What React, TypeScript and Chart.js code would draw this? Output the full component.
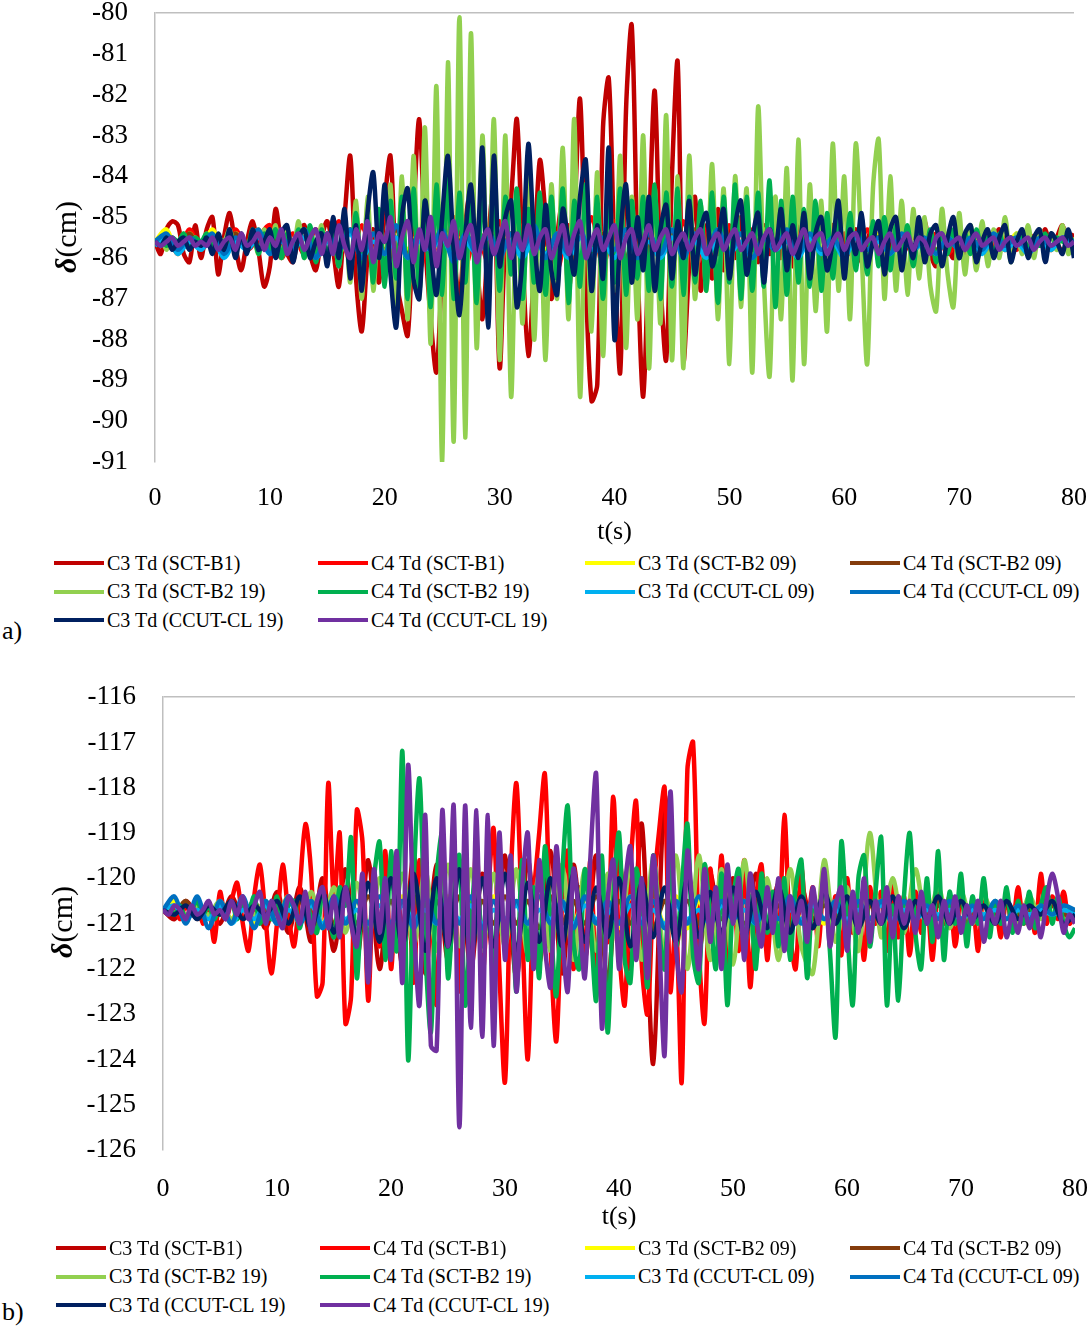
import { useEffect, useRef } from "react";
import { Chart, registerables } from "chart.js";

Chart.register(...registerables);

// time grids: most series sampled every 0.5 s, the quieter ones every 1 s
const T_FINE = Array.from({ length: 161 }, (_, i) => i * 0.5);
const T_COARSE = Array.from({ length: 81 }, (_, i) => i);

const SERIES_NAMES = [
  "C3 Td (SCT-B1)",
  "C4 Td (SCT-B1)",
  "C3 Td (SCT-B2 09)",
  "C4 Td (SCT-B2 09)",
  "C3 Td (SCT-B2 19)",
  "C4 Td (SCT-B2 19)",
  "C3 Td (CCUT-CL 09)",
  "C4 Td (CCUT-CL 09)",
  "C3 Td (CCUT-CL 19)",
  "C4 Td (CCUT-CL 19)",
];
const SERIES_COLORS = [
  "#C00000", "#FF0000", "#FFFF00", "#843C0C", "#92D050",
  "#00B050", "#00B0F0", "#0070C0", "#002060", "#7030A0",
];

const A_TICKS_Y = { min: -91, max: -80 };
const B_TICKS_Y = { min: -126, max: -116 };

// ---------- panel a) ----------
const A_C3_SCTB1 = [
  -85.6, -85.9, -85.3, -85.1, -85.2, -85.9, -86.1, -85.2, -86.0, -85.3,
  -85.0, -86.4, -85.5, -84.9, -85.7, -86.3, -85.6, -85.1, -85.8, -86.7,
  -86.2, -84.8, -85.6, -85.9, -86.1, -85.4, -85.2, -85.9, -86.3, -85.5,
  -85.1, -85.8, -86.7, -85.0, -83.5, -86.5, -87.8, -86.0, -85.3, -86.6,
  -84.6, -83.5, -86.5, -87.3, -87.9, -85.0, -82.6, -85.5, -87.5, -88.8,
  -86.3, -84.5, -85.8, -87.0, -85.2, -84.3, -86.0, -87.5, -85.6, -84.2,
  -88.7, -85.5, -84.5, -82.6, -86.0, -88.4, -86.2, -83.6, -85.0, -87.0,
  -85.5, -84.6, -86.8, -85.0, -82.1, -86.5, -89.5, -89.1, -82.8, -81.6,
  -86.0, -88.8, -82.4, -80.3, -86.0, -89.4, -85.5, -81.9, -86.5, -88.5,
  -84.0, -81.2, -88.5, -86.2, -84.5, -86.8, -85.2, -86.5, -84.8, -86.3,
  -85.3, -86.0, -85.0, -86.2, -85.4, -86.1, -85.2, -85.9, -85.3, -86.0,
  -84.9, -86.2, -85.4, -85.0, -86.3, -84.8, -86.1, -85.6, -85.2, -86.0,
  -85.5, -85.9, -85.3, -86.1, -85.6, -85.2, -86.0, -85.5, -85.8, -85.3,
  -86.0, -85.4, -85.9, -85.6, -85.1, -85.9, -86.2, -85.4, -85.7, -86.0,
  -85.3, -85.9, -85.5, -85.8, -85.4, -85.9, -85.6, -85.3, -85.8, -85.5,
  -85.7, -85.4, -85.9, -85.5, -85.6, -85.3, -85.8, -85.5, -85.2, -85.7,
  -85.4,
];
const A_C4_SCTB1 = [
  -85.6, -85.4, -85.9, -85.3, -85.8, -85.4, -85.9, -85.3, -85.8, -85.5,
  -85.2, -86.0, -85.4, -85.9, -85.3, -86.0, -85.1, -86.1, -85.2, -86.0,
  -85.0, -86.2, -85.1, -86.3, -85.2, -86.0, -85.0, -86.2, -85.3, -86.1,
  -85.1, -86.2, -85.2, -86.0, -85.1, -86.3, -85.2, -86.1, -85.0, -86.2,
  -85.1, -86.0, -85.2, -86.1, -85.3, -86.0, -85.1, -86.2, -85.3, -85.9,
  -85.2, -86.0, -85.3, -85.9, -85.2, -86.0, -85.4, -85.9, -85.3, -85.8,
  -85.4, -85.9, -85.3, -85.8, -85.4, -85.9, -85.5, -85.8, -85.4, -85.9,
  -85.5, -85.8, -85.4, -85.7, -85.5, -85.8, -85.4, -85.7, -85.5, -85.8,
  -85.5,
];
const A_C3_SCTB209 = [
  -85.6, -85.3, -85.9, -85.4, -85.8, -85.3, -85.9, -85.4, -85.7, -85.3,
  -85.8, -85.4, -85.9, -85.3, -85.8, -85.4, -85.9, -85.3, -85.8, -85.4,
  -85.9, -85.3, -85.8, -85.4, -85.9, -85.3, -85.8, -85.4, -85.9, -85.3,
  -85.8, -85.4, -85.9, -85.3, -85.8, -85.4, -85.9, -85.3, -85.8, -85.4,
  -85.9, -85.3, -85.8, -85.4, -85.9, -85.3, -85.8, -85.4, -85.9, -85.3,
  -85.8, -85.4, -85.9, -85.3, -85.8, -85.4, -85.9, -85.3, -85.8, -85.4,
  -85.9, -85.4, -85.8, -85.4, -85.9, -85.3, -85.8, -85.4, -85.8, -85.4,
  -85.8, -85.4, -85.8, -85.5, -85.8, -85.4, -85.7, -85.5, -85.8, -85.4,
  -85.6,
];
const A_C4_SCTB209 = [
  -85.6, -85.5, -85.7, -85.4, -85.8, -85.5, -85.7, -85.4, -85.8, -85.5,
  -85.7, -85.4, -85.8, -85.5, -85.9, -85.4, -85.8, -85.3, -85.9, -85.4,
  -85.8, -85.3, -85.9, -85.4, -85.8, -85.3, -85.9, -85.4, -85.8, -85.3,
  -85.9, -85.4, -85.8, -85.3, -85.9, -85.4, -85.8, -85.3, -85.9, -85.4,
  -85.8, -85.3, -85.9, -85.4, -85.8, -85.4, -85.9, -85.3, -85.8, -85.4,
  -85.9, -85.4, -85.8, -85.4, -85.8, -85.5, -85.9, -85.4, -85.8, -85.5,
  -85.8, -85.4, -85.7, -85.5, -85.8, -85.4, -85.7, -85.5, -85.8, -85.5,
  -85.7, -85.5, -85.8, -85.5, -85.7, -85.5, -85.7, -85.6, -85.7, -85.5,
  -85.6,
];
const A_C3_SCTB219 = [
  -85.6, -85.5, -85.8, -85.5, -85.7, -85.4, -85.8, -85.5, -85.7, -85.4,
  -85.8, -85.5, -85.6, -85.3, -85.8, -85.5, -85.7, -85.4, -85.9, -85.3,
  -85.8, -85.2, -86.0, -85.3, -85.9, -85.1, -86.0, -85.3, -85.9, -85.2,
  -86.1, -85.3, -86.2, -85.0, -86.6, -84.6, -87.0, -84.5, -86.8, -84.8,
  -86.5, -84.2, -87.2, -84.0, -87.5, -83.5, -87.0, -82.8, -88.1, -81.8,
  -91.0, -81.2, -90.5, -80.1, -90.4, -80.5, -88.2, -83.0, -87.3, -82.6,
  -88.5, -83.0, -89.4, -84.5, -87.6, -83.5, -88.0, -84.6, -88.5, -84.2,
  -87.0, -83.3, -87.5, -82.6, -89.4, -84.2, -87.8, -83.9, -88.4, -84.0,
  -86.8, -83.5, -88.2, -84.5, -87.5, -83.0, -88.7, -84.3, -87.6, -82.5,
  -88.5, -84.0, -88.7, -83.5, -87.0, -84.7, -86.8, -83.7, -87.5, -84.3,
  -88.6, -84.0, -87.2, -84.3, -88.8, -82.3, -86.5, -88.9, -84.5, -87.5,
  -83.8, -89.0, -83.1, -88.6, -84.2, -87.3, -84.6, -87.8, -83.2, -86.8,
  -84.0, -87.5, -83.2, -85.8, -88.6, -84.3, -83.1, -87.0, -84.0, -86.8,
  -84.6, -86.9, -84.8, -86.5, -85.0, -86.7, -87.3, -84.8, -86.4, -87.2,
  -84.9, -86.4, -85.2, -86.3, -85.1, -86.2, -85.3, -86.0, -85.0, -86.1,
  -85.4, -85.9, -85.2, -86.0, -85.3, -85.9, -85.4, -85.8, -85.2, -85.9,
  -85.5,
];
const A_C4_SCTB219 = [
  -85.6, -85.5, -85.7, -85.5, -85.6, -85.4, -85.7, -85.5, -85.6, -85.4,
  -85.7, -85.5, -85.8, -85.4, -85.7, -85.5, -85.8, -85.3, -85.9, -85.4,
  -85.8, -85.3, -86.0, -85.4, -85.9, -85.3, -86.0, -85.2, -86.1, -85.3,
  -86.0, -85.2, -86.2, -85.1, -86.3, -84.9, -86.4, -85.0, -86.6, -84.8,
  -86.7, -84.6, -86.5, -84.5, -87.0, -84.3, -86.8, -84.6, -87.2, -84.2,
  -86.9, -84.0, -87.0, -84.4, -86.6, -84.5, -87.1, -84.2, -86.5, -84.6,
  -86.8, -84.5, -86.4, -84.3, -87.0, -84.8, -86.6, -84.4, -86.9, -84.5,
  -86.5, -84.3, -87.1, -84.6, -86.7, -84.2, -86.8, -84.5, -87.0, -84.4,
  -86.6, -84.3, -86.9, -84.6, -86.5, -84.5, -86.8, -84.2, -87.0, -84.4,
  -86.7, -84.3, -86.9, -84.5, -86.6, -84.6, -86.8, -84.4, -87.1, -84.5,
  -86.6, -84.2, -87.0, -84.5, -86.8, -84.4, -86.7, -84.1, -87.2, -84.6,
  -86.9, -84.5, -86.6, -84.8, -86.7, -84.6, -86.8, -84.9, -86.5, -85.0,
  -86.4, -84.9, -86.3, -85.0, -86.4, -85.1, -86.2, -85.0, -86.3, -85.2,
  -86.1, -85.2, -86.2, -85.3, -86.0, -85.3, -86.1, -85.4, -85.9, -85.3,
  -86.0, -85.4, -85.9, -85.3, -85.8, -85.5, -85.9, -85.4, -85.8, -85.5,
  -85.7, -85.4, -85.8, -85.5, -85.7, -85.4, -85.8, -85.5, -85.6, -85.5,
  -85.6,
];
const A_C3_CCUT09 = [
  -85.7, -85.5, -85.9, -85.6, -85.8, -85.5, -86.0, -85.6, -85.8, -85.5,
  -85.9, -85.6, -85.8, -85.5, -86.0, -85.6, -85.8, -85.4, -86.0, -85.6,
  -85.9, -85.5, -86.0, -85.6, -85.8, -85.5, -86.0, -85.6, -85.9, -85.5,
  -85.8, -85.6, -86.0, -85.5, -85.9, -85.6, -86.0, -85.5, -85.8, -85.6,
  -86.0, -85.5, -85.9, -85.6, -86.0, -85.5, -85.8, -85.6, -86.0, -85.5,
  -85.9, -85.6, -86.0, -85.5, -85.8, -85.6, -86.0, -85.5, -85.9, -85.6,
  -86.0, -85.5, -85.8, -85.6, -85.9, -85.5, -85.8, -85.6, -85.9, -85.5,
  -85.8, -85.6, -85.9, -85.5, -85.8, -85.6, -85.9, -85.6, -85.8, -85.5,
  -85.7,
];
const A_C4_CCUT09 = [
  -85.6, -85.4, -85.8, -85.5, -85.7, -85.4, -85.9, -85.5, -85.7, -85.3,
  -85.9, -85.5, -85.8, -85.3, -86.0, -85.4, -85.8, -85.3, -86.0, -85.4,
  -85.9, -85.2, -86.0, -85.4, -85.8, -85.3, -86.1, -85.4, -85.9, -85.3,
  -86.0, -85.4, -85.8, -85.2, -86.0, -85.4, -85.9, -85.3, -86.0, -85.5,
  -85.8, -85.3, -86.0, -85.4, -85.9, -85.3, -86.0, -85.4, -85.8, -85.3,
  -85.9, -85.4, -86.0, -85.5, -85.8, -85.3, -85.9, -85.4, -85.8, -85.5,
  -85.9, -85.4, -85.8, -85.5, -85.9, -85.4, -85.8, -85.5, -85.9, -85.5,
  -85.8, -85.5, -85.8, -85.4, -85.7, -85.5, -85.8, -85.5, -85.7, -85.5,
  -85.6,
];
const A_C3_CCUT19 = [
  -85.6, -85.7, -85.5, -85.8, -85.6, -85.5, -85.8, -85.6, -85.7, -85.5,
  -85.9, -85.4, -85.8, -85.3, -86.0, -85.4, -85.9, -85.3, -85.8, -85.6,
  -85.3, -86.0, -85.4, -85.2, -86.1, -85.5, -85.3, -86.0, -85.6, -85.4,
  -86.2, -85.0, -86.0, -84.8, -86.5, -85.2, -86.8, -84.9, -83.9, -86.0,
  -84.2, -86.4, -87.7, -85.0, -84.3, -86.5, -87.0, -84.6, -85.8, -86.9,
  -85.0, -83.5, -85.8, -87.4, -85.5, -84.2, -86.0, -83.3, -87.7, -83.5,
  -86.2, -85.0, -84.6, -87.2, -86.0, -83.2, -85.5, -86.8, -84.7, -86.3,
  -86.9, -84.8, -85.6, -86.4, -84.5, -83.6, -86.8, -85.2, -86.5, -83.3,
  -88.0, -85.5, -84.2, -86.6, -85.0, -86.3, -84.5, -86.8, -85.3, -84.7,
  -86.5, -85.1, -86.0, -84.6, -86.4, -85.3, -84.9, -86.2, -85.6, -84.8,
  -86.5, -85.2, -84.6, -86.4, -85.5, -84.9, -86.6, -85.3, -85.8, -84.8,
  -86.3, -85.2, -86.0, -84.9, -86.5, -85.4, -85.0, -86.3, -85.6, -84.6,
  -86.5, -85.3, -85.9, -84.9, -86.2, -85.6, -85.1, -86.4, -85.3, -85.0,
  -86.3, -85.5, -86.0, -85.0, -86.1, -85.4, -85.2, -86.2, -85.5, -85.0,
  -86.0, -85.4, -85.2, -86.1, -85.6, -85.3, -86.0, -85.5, -85.2, -86.1,
  -85.6, -85.3, -86.0, -85.5, -85.3, -86.1, -85.4, -85.6, -85.9, -85.3,
  -86.0,
];
const A_C4_CCUT19 = [
  -85.6, -85.7, -85.6, -85.5, -85.7, -85.6, -85.5, -85.7, -85.6, -85.7,
  -85.5, -85.8, -85.6, -85.5, -85.8, -85.4, -85.7, -85.6, -85.4, -85.8,
  -85.5, -85.7, -85.3, -85.9, -85.6, -85.4, -85.8, -85.5, -85.3, -85.9,
  -85.4, -85.9, -85.2, -85.7, -86.0, -85.3, -85.8, -85.1, -86.1, -85.4,
  -85.6, -85.0, -86.2, -85.5, -85.1, -86.1, -85.3, -85.8, -85.0, -86.2,
  -85.4, -85.7, -85.1, -86.0, -85.5, -85.2, -86.1, -85.6, -85.3, -85.9,
  -85.5, -85.1, -86.0, -85.4, -85.8, -85.2, -85.9, -85.5, -85.3, -86.0,
  -85.6, -85.2, -85.9, -85.4, -85.1, -86.0, -85.6, -85.3, -85.8, -85.5,
  -85.2, -86.0, -85.5, -85.3, -85.9, -85.6, -85.2, -85.8, -85.5, -85.3,
  -85.9, -85.6, -85.4, -85.8, -85.5, -85.3, -85.9, -85.6, -85.4, -85.8,
  -85.5, -85.3, -85.8, -85.6, -85.4, -85.9, -85.5, -85.3, -85.8, -85.6,
  -85.4, -85.9, -85.6, -85.3, -85.8, -85.5, -85.4, -85.9, -85.6, -85.4,
  -85.8, -85.5, -85.4, -85.8, -85.6, -85.5, -85.9, -85.6, -85.4, -85.8,
  -85.6, -85.4, -85.8, -85.5, -85.6, -85.9, -85.5, -85.4, -85.7, -85.6,
  -85.5, -85.8, -85.6, -85.4, -85.7, -85.6, -85.5, -85.8, -85.6, -85.5,
  -85.7, -85.6, -85.5, -85.8, -85.6, -85.5, -85.7, -85.6, -85.5, -85.7,
  -85.6,
];

// ---------- panel b) ----------
const B_C3_SCTB1 = [
  -120.7, -120.9, -120.5, -120.8, -120.6, -121.0, -120.4, -120.9, -120.5, -121.1,
  -120.3, -121.2, -120.2, -121.4, -120.0, -121.6, -119.8, -121.8, -119.6, -122.0,
  -119.8, -121.9, -119.5, -122.1, -119.7, -121.8, -119.6, -122.0, -119.9, -121.7,
  -119.5, -122.2, -119.6, -121.9, -119.4, -122.1, -119.7, -121.8, -119.5, -122.3,
  -119.6, -122.0, -118.8, -124.1, -118.2, -121.5, -119.8, -121.6, -119.9, -121.4,
  -120.0, -121.5, -119.9, -121.3, -120.1, -121.2, -120.2, -121.1, -120.3, -121.0,
  -120.4, -121.2, -120.3, -121.0, -120.5, -121.1, -120.4, -120.9, -120.5, -121.0,
  -120.6, -120.9, -120.5, -121.0, -120.6, -120.9, -120.5, -120.8, -120.6, -120.9,
  -120.7,
];
const B_C4_SCTB1 = [
  -120.7, -120.8, -120.6, -120.9, -120.6, -120.8, -120.5, -121.0, -120.6, -121.4,
  -120.3, -120.9, -120.5, -120.1, -121.0, -121.6, -120.4, -119.7, -120.9, -122.1,
  -121.0, -119.7, -120.8, -121.5, -120.2, -118.8, -119.9, -122.6, -122.3, -117.9,
  -120.5, -119.0, -123.2, -122.6, -118.5, -119.2, -122.7, -120.0, -121.5, -119.4,
  -122.0, -120.2, -121.2, -120.3, -122.3, -119.6, -121.8, -120.5, -122.8, -119.8,
  -121.5, -120.0, -122.5, -119.5, -121.8, -119.2, -122.2, -120.4, -118.9, -122.0,
  -124.5, -120.0, -117.9, -121.0, -124.0, -120.5, -119.0, -117.7, -121.5, -123.6,
  -120.6, -119.4, -122.0, -120.2, -121.8, -119.6, -122.3, -120.0, -121.4, -118.2,
  -121.5, -122.8, -119.8, -118.3, -121.9, -123.0, -120.4, -119.0, -118.0, -122.5,
  -121.0, -124.5, -117.6, -117.0, -121.5, -123.2, -119.8, -121.2, -119.5, -121.9,
  -120.2, -121.6, -119.6, -122.4, -120.5, -119.7, -121.8, -120.3, -121.4, -118.6,
  -121.2, -122.0, -119.8, -121.0, -120.2, -121.5, -119.9, -121.3, -120.4, -121.7,
  -120.0, -121.2, -120.5, -121.8, -120.2, -121.0, -120.3, -121.6, -120.1, -121.3,
  -120.4, -121.7, -120.3, -121.2, -120.5, -121.8, -120.2, -121.0, -120.4, -121.5,
  -120.3, -121.2, -120.5, -121.6, -120.2, -121.0, -120.6, -121.3, -120.4, -121.1,
  -120.2, -121.0, -120.5, -121.2, -119.9, -121.0, -120.4, -120.9, -120.3, -121.0,
  -120.8,
];
const B_C3_SCTB209 = [
  -120.7, -120.5, -120.9, -120.5, -120.9, -120.6, -120.9, -120.5, -121.0, -120.6,
  -120.9, -120.4, -121.0, -120.5, -121.0, -120.4, -121.1, -120.5, -121.0, -120.4,
  -121.0, -120.4, -121.1, -120.5, -121.0, -120.4, -121.0, -120.5, -121.1, -120.4,
  -121.0, -120.5, -121.0, -120.4, -121.1, -120.5, -121.0, -120.4, -121.0, -120.5,
  -121.1, -120.4, -121.0, -120.5, -121.0, -120.4, -121.1, -120.5, -121.0, -120.5,
  -121.0, -120.5, -120.9, -120.5, -121.0, -120.5, -120.9, -120.6, -121.0, -120.5,
  -120.9, -120.6, -120.9, -120.5, -120.9, -120.6, -120.9, -120.6, -120.8, -120.6,
  -120.9, -120.6, -120.8, -120.6, -120.9, -120.6, -120.8, -120.6, -120.8, -120.7,
  -120.7,
];
const B_C4_SCTB209 = [
  -120.7, -120.8, -120.5, -120.9, -120.6, -120.8, -120.5, -120.9, -120.6, -120.9,
  -120.5, -121.0, -120.5, -120.9, -120.4, -121.0, -120.5, -121.0, -120.4, -121.0,
  -120.5, -121.1, -120.4, -121.0, -120.5, -121.0, -120.4, -121.1, -120.5, -121.0,
  -120.4, -121.0, -120.5, -121.1, -120.4, -121.0, -120.5, -121.0, -120.4, -121.0,
  -120.5, -121.0, -120.4, -121.1, -120.5, -121.0, -120.5, -121.0, -120.4, -120.9,
  -120.5, -121.0, -120.5, -120.9, -120.6, -121.0, -120.5, -120.9, -120.6, -120.9,
  -120.5, -120.9, -120.6, -120.9, -120.6, -120.9, -120.5, -120.9, -120.6, -120.8,
  -120.6, -120.9, -120.6, -120.8, -120.6, -120.8, -120.7, -120.8, -120.6, -120.8,
  -120.7,
];
const B_C3_SCTB219 = [
  -120.7, -120.6, -120.8, -120.6, -120.8, -120.5, -120.9, -120.6, -120.8, -120.5,
  -120.9, -120.4, -121.0, -120.3, -121.1, -120.2, -121.2, -120.1, -121.3, -120.0,
  -121.4, -119.9, -121.5, -119.8, -121.6, -119.7, -121.5, -119.8, -121.6, -119.9,
  -121.5, -119.8, -121.7, -119.9, -121.6, -119.7, -121.8, -119.8, -121.6, -119.9,
  -121.5, -119.7, -121.8, -119.6, -121.7, -119.5, -122.0, -119.5, -121.8, -119.8,
  -121.9, -119.6, -121.7, -120.0, -121.8, -119.8, -121.5, -122.1, -119.6, -121.4,
  -120.2, -121.6, -119.0, -121.3, -120.0, -121.2, -119.8, -121.0, -120.2, -121.1,
  -120.3, -121.0, -120.4, -120.9, -120.5, -121.0, -120.4, -120.9, -120.5, -120.9,
  -120.8,
];
const B_C4_SCTB219 = [
  -120.7, -120.6, -120.8, -120.6, -120.9, -120.7, -120.5, -120.8, -120.6, -120.9,
  -120.6, -120.8, -120.5, -120.9, -120.6, -120.7, -120.4, -121.0, -120.5, -120.9,
  -120.4, -121.0, -120.6, -120.5, -121.1, -120.4, -120.9, -121.2, -120.3, -120.8,
  -121.3, -120.2, -120.6, -119.1, -122.2, -120.5, -121.5, -120.0, -119.2, -121.8,
  -119.4, -121.6, -117.2, -124.0, -120.0, -117.8, -121.5, -123.4, -120.0, -119.0,
  -122.2, -120.5, -119.5, -122.8, -121.0, -119.7, -121.5, -120.2, -122.0, -119.8,
  -121.4, -120.4, -122.5, -119.6, -121.8, -120.2, -122.2, -119.3, -121.0, -122.6,
  -120.0, -118.4, -121.4, -122.0, -119.8, -121.0, -122.7, -119.5, -123.4, -120.5,
  -119.0, -121.8, -122.3, -119.8, -120.6, -122.4, -119.5, -121.1, -122.0, -119.4,
  -121.5, -120.2, -118.8, -121.7, -122.3, -119.7, -120.8, -122.0, -119.9, -122.8,
  -120.5, -119.8, -121.6, -120.4, -122.0, -119.9, -121.2, -120.3, -121.5, -120.0,
  -121.8, -120.2, -119.6, -122.2, -120.4, -121.0, -120.0, -121.6, -123.5, -119.2,
  -121.0, -122.8, -120.0, -119.5, -121.5, -120.3, -119.1, -122.8, -120.6, -122.7,
  -120.4, -119.0, -121.2, -122.0, -120.0, -121.4, -119.4, -121.8, -120.3, -121.0,
  -119.9, -121.5, -120.4, -121.0, -120.0, -121.3, -120.5, -121.0, -120.2, -121.2,
  -120.5, -121.0, -120.3, -121.1, -120.6, -120.2, -121.0, -120.4, -121.0, -121.3,
  -121.1,
];
const B_C3_CCUT09 = [
  -120.7, -120.6, -120.9, -120.7, -120.9, -120.6, -121.0, -120.7, -120.9, -120.6,
  -121.0, -120.7, -120.9, -120.6, -121.0, -120.6, -120.9, -120.7, -121.0, -120.6,
  -121.0, -120.6, -120.9, -120.7, -121.0, -120.6, -120.9, -120.6, -121.0, -120.7,
  -120.9, -120.6, -121.0, -120.7, -120.9, -120.6, -121.0, -120.6, -120.9, -120.7,
  -121.0, -120.6, -120.9, -120.7, -121.0, -120.6, -120.9, -120.7, -121.0, -120.6,
  -120.9, -120.7, -121.0, -120.6, -120.9, -120.7, -120.9, -120.6, -120.9, -120.7,
  -120.9, -120.7, -120.9, -120.6, -120.9, -120.7, -120.9, -120.7, -120.8, -120.7,
  -120.9, -120.7, -120.8, -120.7, -120.9, -120.7, -120.8, -120.7, -120.8, -120.7,
  -120.8,
];
const B_C4_CCUT09 = [
  -120.7, -120.4, -121.0, -120.4, -121.1, -120.5, -121.0, -120.4, -121.1, -120.5,
  -121.0, -120.4, -121.0, -120.5, -121.1, -120.4, -121.0, -120.5, -121.0, -120.4,
  -121.0, -120.5, -121.1, -120.4, -121.0, -120.5, -121.0, -120.4, -121.1, -120.5,
  -121.0, -120.5, -121.0, -120.4, -121.0, -120.5, -121.1, -120.4, -121.0, -120.5,
  -121.0, -120.4, -121.0, -120.5, -121.1, -120.5, -121.0, -120.4, -121.0, -120.5,
  -120.9, -120.5, -121.0, -120.5, -120.9, -120.4, -121.0, -120.5, -120.9, -120.5,
  -121.0, -120.5, -120.9, -120.5, -121.0, -120.5, -120.9, -120.6, -120.9, -120.5,
  -120.9, -120.6, -120.9, -120.5, -120.9, -120.6, -120.9, -120.6, -120.8, -120.6,
  -120.7,
];
const B_C3_CCUT19 = [
  -120.7, -120.8, -120.6, -120.9, -120.6, -120.8, -120.5, -120.9, -120.6, -120.8,
  -120.5, -121.0, -120.4, -121.1, -120.3, -121.2, -120.2, -121.3, -120.1, -121.4,
  -120.0, -121.5, -119.9, -121.6, -120.0, -121.5, -119.8, -121.7, -120.0, -121.5,
  -119.9, -121.6, -120.1, -121.4, -120.0, -121.5, -119.9, -121.4, -120.2, -121.3,
  -120.0, -121.5, -120.1, -121.3, -120.2, -121.4, -120.0, -121.3, -120.3, -121.2,
  -120.2, -121.3, -120.3, -121.1, -120.2, -121.2, -120.4, -121.1, -120.3, -121.0,
  -120.4, -121.1, -120.5, -121.0, -120.4, -121.1, -120.5, -120.9, -120.4, -121.0,
  -120.5, -120.9, -120.6, -121.0, -120.5, -120.9, -120.6, -120.8, -120.5, -121.0,
  -120.8,
];
const B_C4_CCUT19 = [
  -120.7, -120.8, -120.6, -120.7, -120.9, -120.6, -120.8, -120.7, -120.5, -120.8,
  -120.7, -120.9, -120.5, -120.8, -120.4, -120.9, -120.6, -120.3, -121.0, -120.5,
  -120.8, -121.1, -120.4, -120.6, -121.0, -120.3, -121.2, -120.5, -120.2, -121.1,
  -120.4, -121.3, -120.2, -121.0, -121.5, -119.9, -122.3, -119.8, -121.2, -120.0,
  -121.8, -119.4, -122.3, -117.5, -121.0, -122.8, -118.6, -123.7, -123.8, -118.5,
  -121.5, -118.4, -125.5, -118.4, -123.3, -118.5, -123.5, -118.6, -123.7, -119.0,
  -121.8, -119.5, -122.5, -120.2, -119.0, -122.0, -119.6, -121.5, -122.4, -119.3,
  -121.2, -122.5, -119.8, -120.8, -122.2, -119.5, -117.7, -123.3, -120.5, -119.6,
  -122.0, -120.2, -119.3, -121.8, -120.0, -122.2, -119.5, -121.3, -123.9, -118.1,
  -121.5, -122.5, -119.4, -120.8, -122.0, -119.8, -121.4, -120.2, -122.0, -119.7,
  -121.0, -120.0, -121.8, -119.9, -120.8, -121.5, -120.2, -121.2, -120.0, -121.6,
  -120.4, -121.0, -120.5, -121.4, -120.2, -121.0, -119.8, -121.5, -120.6, -120.2,
  -121.6, -120.3, -121.2, -120.0, -121.4, -120.5, -121.0, -120.2, -121.3, -120.4,
  -121.0, -120.5, -121.2, -120.3, -121.0, -120.6, -121.3, -120.5, -121.0, -120.4,
  -121.2, -120.6, -121.0, -120.5, -121.4, -120.7, -121.0, -120.5, -121.3, -120.8,
  -121.2, -120.6, -121.1, -120.7, -121.3, -120.5, -119.9, -120.4, -121.2, -120.8,
  -121.0,
];

const PANEL_A = [
  A_C3_SCTB1, A_C4_SCTB1, A_C3_SCTB209, A_C4_SCTB209, A_C3_SCTB219,
  A_C4_SCTB219, A_C3_CCUT09, A_C4_CCUT09, A_C3_CCUT19, A_C4_CCUT19,
];
const PANEL_B = [
  B_C3_SCTB1, B_C4_SCTB1, B_C3_SCTB209, B_C4_SCTB209, B_C3_SCTB219,
  B_C4_SCTB219, B_C3_CCUT09, B_C4_CCUT09, B_C3_CCUT19, B_C4_CCUT19,
];

const SERIF = '"Liberation Serif", "Times New Roman", serif';

interface PanelProps {
  series: number[][];
  yMin: number;
  yMax: number;
  top: number;
  width: number;
  height: number;
  yWidth: number;
  xHeight: number;
  xTickPad: number;
  xTitlePad: number;
}

function Panel(p: PanelProps) {
  const canvasRef = useRef<HTMLCanvasElement>(null);

  useEffect(() => {
    if (!canvasRef.current) return;
    const n = p.series.length;
    const chart = new Chart(canvasRef.current, {
      type: "line",
      data: {
        datasets: p.series.map((vals, i) => {
          const times = vals.length > 81 ? T_FINE : T_COARSE;
          return {
            label: SERIES_NAMES[i],
            data: vals.map((y, k) => ({ x: times[k], y })),
            borderColor: SERIES_COLORS[i],
            backgroundColor: SERIES_COLORS[i],
            borderWidth: 4.5,
            pointRadius: 0,
            tension: 0.3,
            fill: false,
            order: n - 1 - i, // last series on top, like the spreadsheet
          };
        }),
      },
      options: {
        animation: false,
        responsive: true,
        maintainAspectRatio: false,
        layout: { padding: 0 },
        plugins: { legend: { display: false }, tooltip: { enabled: false } },
        scales: {
          x: {
            type: "linear",
            min: 0,
            max: 80,
            afterFit: (s) => {
              s.height = p.xHeight;
            },
            grid: { display: false },
            border: { display: false },
            ticks: {
              stepSize: 10,
              padding: p.xTickPad,
              color: "#000",
              font: { family: SERIF, size: 26 },
            },
            title: {
              display: true,
              text: "t(s)",
              color: "#000",
              font: { family: SERIF, size: 26 },
              padding: { top: 0, bottom: p.xTitlePad },
            },
          },
          y: {
            min: p.yMin,
            max: p.yMax,
            afterFit: (s) => {
              s.width = p.yWidth;
            },
            grid: {
              drawTicks: false,
              lineWidth: 1.5,
              color: (ctx) => (ctx.tick && ctx.tick.value === p.yMax ? "#BFBFBF" : "rgba(0,0,0,0)"),
            },
            border: { display: true, color: "#BFBFBF", width: 1.5 },
            ticks: {
              stepSize: 1,
              padding: 27,
              color: "#000",
              font: { family: SERIF, size: 27 },
            },
          },
        },
      },
    });
    return () => chart.destroy();
  }, []);

  return (
    <div style={{ position: "absolute", left: 0, top: p.top, width: p.width, height: p.height }}>
      <canvas ref={canvasRef} />
    </div>
  );
}

function Legend({ top, cols }: { top: number; cols: number[] }) {
  return (
    <>
      {SERIES_NAMES.map((name, i) => (
        <div
          key={name}
          style={{
            position: "absolute",
            left: cols[i % 4],
            top: top + Math.floor(i / 4) * 28.5 - 13,
            height: 26,
            display: "flex",
            alignItems: "center",
            whiteSpace: "nowrap",
            fontFamily: SERIF,
            fontSize: 20,
            color: "#000",
          }}
        >
          <span style={{ display: "inline-block", width: 50, height: 4, background: SERIES_COLORS[i] }} />
          <span style={{ marginLeft: 3 }}>{name}</span>
        </div>
      ))}
    </>
  );
}

function YTitle({ x, y }: { x: number; y: number }) {
  return (
    <div
      style={{
        position: "absolute",
        left: x,
        top: y,
        transform: "translate(-50%, -50%) rotate(-90deg)",
        whiteSpace: "nowrap",
        fontFamily: SERIF,
        fontSize: 30,
        color: "#000",
      }}
    >
      <b><i>δ</i></b>(cm)
    </div>
  );
}

function PanelTag({ text, y }: { text: string; y: number }) {
  return (
    <div
      style={{
        position: "absolute",
        left: 2,
        top: y - 16,
        fontFamily: SERIF,
        fontSize: 26,
        color: "#000",
      }}
    >
      {text}
    </div>
  );
}

export default function App() {
  return (
    <div
      style={{
        position: "absolute",
        left: 0,
        top: 0,
        width: 1089,
        height: 1329,
        background: "#fff",
        overflow: "hidden",
      }}
    >
      {/* canvases start above / run past the page so the plot areas land where the figure has them */}
      <Panel
        series={PANEL_A}
        yMin={A_TICKS_Y.min}
        yMax={A_TICKS_Y.max}
        top={-30}
        width={1100}
        height={580}
        yWidth={155}
        xHeight={88}
        xTickPad={13}
        xTitlePad={2}
      />
      <YTitle x={66} y={237} />
      <Legend top={563} cols={[54, 318, 585, 850]} />
      <PanelTag text="a)" y={632} />

      <Panel
        series={PANEL_B}
        yMin={B_TICKS_Y.min}
        yMax={B_TICKS_Y.max}
        top={654}
        width={1104}
        height={586}
        yWidth={163}
        xHeight={90}
        xTickPad={16}
        xTitlePad={7}
      />
      <YTitle x={62} y={922} />
      <Legend top={1248} cols={[56, 320, 585, 850]} />
      <PanelTag text="b)" y={1313} />
    </div>
  );
}
